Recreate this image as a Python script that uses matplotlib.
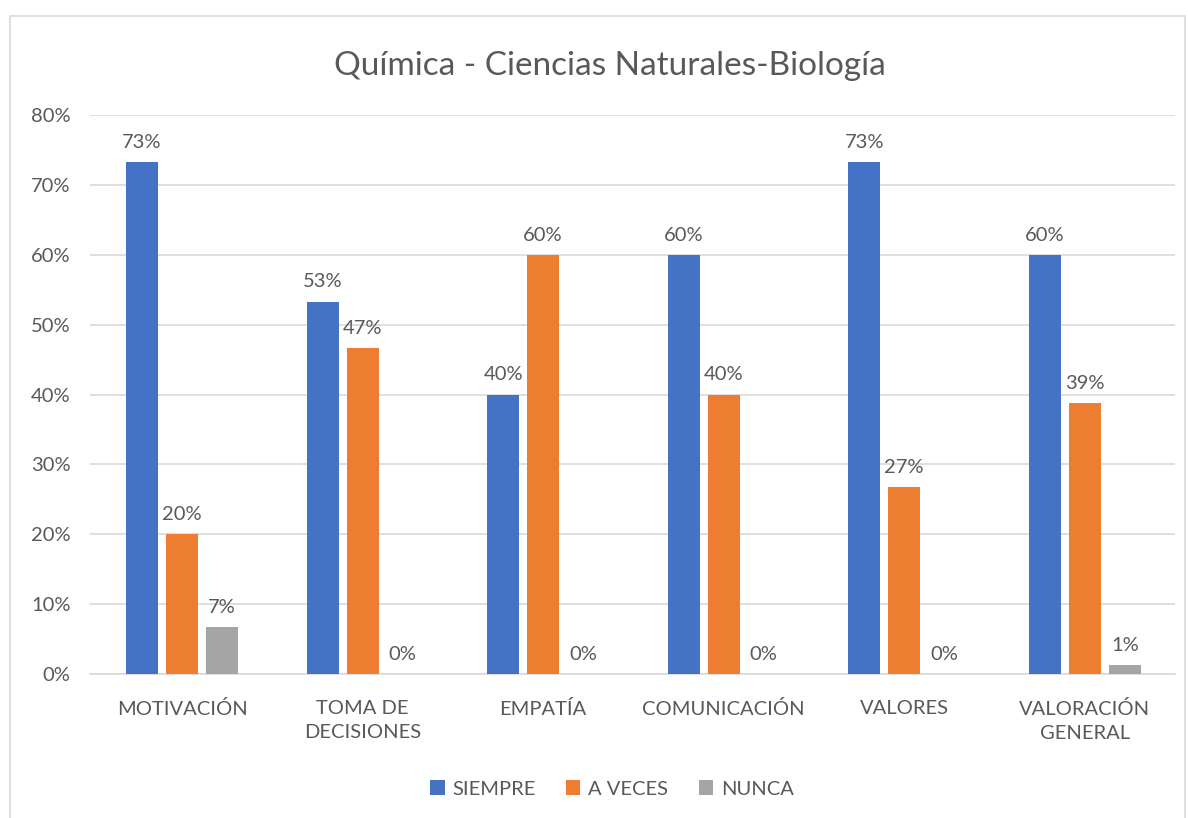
import matplotlib.pyplot as plt
import numpy as np
from matplotlib.patches import Rectangle

plt.rcParams['font.family'] = ['Lato', 'DejaVu Sans']

categories = ['MOTIVACIÓN', 'TOMA DE\nDECISIONES', 'EMPATÍA', 'COMUNICACIÓN', 'VALORES', 'VALORACIÓN\nGENERAL']
siempre = [73.3, 53.3, 40.0, 60.0, 73.3, 60.0]
a_veces = [20.0, 46.7, 60.0, 40.0, 26.7, 38.8]
nunca = [6.7, 0.0, 0.0, 0.0, 0.0, 1.3]
series_names = ['SIEMPRE', 'A VECES', 'NUNCA']
colors = ['#4472C4', '#ED7D31', '#A5A5A5']
text_color = '#595959'

fig = plt.figure(figsize=(11.88, 8.18), dpi=100)
ax = fig.add_axes([90 / 1188, 1 - 674 / 818, 1085 / 1188, 559 / 818])

# chart frame
fig.patches.append(Rectangle((10 / 1188, -0.01), 1175 / 1188, 1 - 16 / 818 + 0.01,
                             transform=fig.transFigure, fill=False,
                             edgecolor='#D9D9D9', linewidth=1.2))

x = np.arange(len(categories))
width = 0.177
offset = 0.2216

for i, (vals, name, c) in enumerate(zip([siempre, a_veces, nunca], series_names, colors)):
    pos = x + (i - 1) * offset
    ax.bar(pos, vals, width, color=c, label=name, zorder=3)
    for px, v in zip(pos, vals):
        ax.text(px, v + 1.6, '%d%%' % round(v), ha='center', va='bottom',
                fontsize=14.5, color=text_color)

ax.set_ylim(0, 80)
ax.set_xlim(-0.51, 5.5)
ax.set_yticks(np.arange(0, 81, 10))
ax.set_yticklabels(['%d%%' % t for t in range(0, 81, 10)], fontsize=14.5, color=text_color)
ax.set_xticks(x)
ax.set_xticklabels(categories, fontsize=14.5, color=text_color, linespacing=1.45)
ax.tick_params(axis='both', length=0)
ax.tick_params(axis='x', pad=19)
ax.tick_params(axis='y', pad=14)
ax.grid(axis='y', color='#D9D9D9', linewidth=1.2, zorder=0)
for s in ['top', 'right', 'left']:
    ax.spines[s].set_visible(False)
ax.spines['bottom'].set_color('#D9D9D9')
ax.spines['bottom'].set_linewidth(1.2)

fig.text(610 / 1188, 1 - 66 / 818, 'Química - Ciencias Naturales-Biología',
         ha='center', va='center', fontsize=24, color=text_color)

leg = fig.legend(loc='center', bbox_to_anchor=(612 / 1188, 1 - 789 / 818), ncol=3,
                 frameon=False, fontsize=14.5, handlelength=0.7, handleheight=0.7,
                 handletextpad=0.4, columnspacing=1.5)
for t in leg.get_texts():
    t.set_color(text_color)

plt.savefig('out.png', dpi=100)
